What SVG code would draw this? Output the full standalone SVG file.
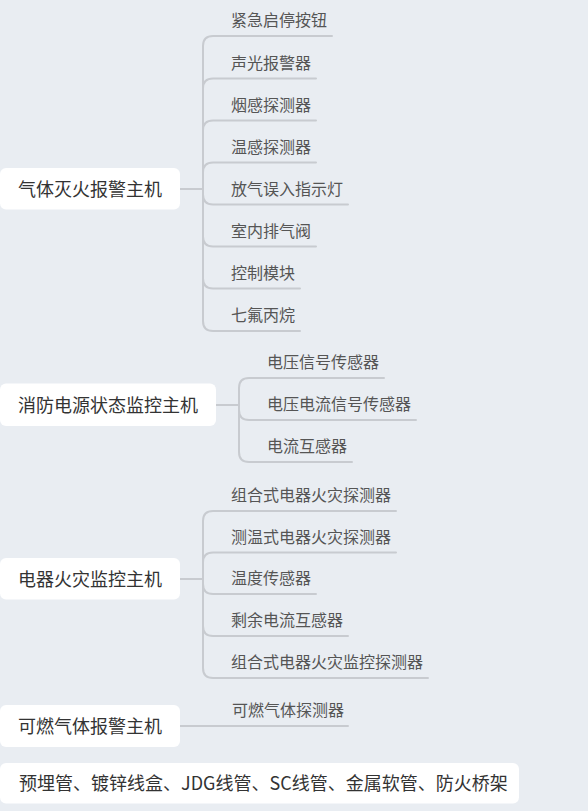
<svg xmlns="http://www.w3.org/2000/svg" width="588" height="811" viewBox="0 0 588 811">
<style>
.bg{fill:#e9edf2}
.box{fill:#ffffff}
.main{font-family:"Noto Sans CJK SC","Noto Sans",sans-serif;font-size:18px;fill:#333333}
.sub{font-family:"Noto Sans CJK SC","Noto Sans",sans-serif;font-size:16px;fill:#555555}
.ln{fill:none;stroke:#c8cbd0;stroke-width:2;stroke-linecap:round}
</style>
<rect class="bg" x="0" y="0" width="588" height="811"/>
<g id="connectors">
<!-- group 1 -->
<path class="ln" d="M180 189 H203"/>
<path class="ln" d="M203 189 V46 Q203 36 213 36 H332"/>
<path class="ln" d="M203 189 V88.5 Q203 78.5 213 78.5 H316"/>
<path class="ln" d="M203 189 V130.5 Q203 120.5 213 120.5 H316"/>
<path class="ln" d="M203 189 V172.5 Q203 162.5 213 162.5 H316"/>
<path class="ln" d="M203 189 V194.5 Q203 204.5 213 204.5 H348"/>
<path class="ln" d="M203 189 V236.5 Q203 246.5 213 246.5 H316"/>
<path class="ln" d="M203 189 V278.5 Q203 288.5 213 288.5 H300"/>
<path class="ln" d="M203 189 V321 Q203 331 213 331 H300"/>
<!-- group 2 -->
<path class="ln" d="M216 405 H239"/>
<path class="ln" d="M239 405 V388 Q239 378 249 378 H384"/>
<path class="ln" d="M239 405 V410 Q239 420 249 420 H416"/>
<path class="ln" d="M239 405 V452 Q239 462 249 462 H352"/>
<!-- group 3 -->
<path class="ln" d="M180 579 H203"/>
<path class="ln" d="M203 579 V521 Q203 511 213 511 H396"/>
<path class="ln" d="M203 579 V562.5 Q203 552.5 213 552.5 H396"/>
<path class="ln" d="M203 579 V584 Q203 594 213 594 H316"/>
<path class="ln" d="M203 579 V626 Q203 636 213 636 H348"/>
<path class="ln" d="M203 579 V668 Q203 678 213 678 H428"/>
<!-- group 4 -->
<path class="ln" d="M180 726 H348"/>
</g>
<g id="node-gas">
<rect class="box" x="0" y="168" width="180" height="41.5" rx="6"/>
<text class="main" x="18" y="195.5">气体灭火报警主机</text>
</g>
<g id="g1-c1"><text class="sub" x="231" y="26">紧急启停按钮</text></g>
<g id="g1-c2"><text class="sub" x="231" y="68.5">声光报警器</text></g>
<g id="g1-c3"><text class="sub" x="231" y="110.5">烟感探测器</text></g>
<g id="g1-c4"><text class="sub" x="231" y="152.5">温感探测器</text></g>
<g id="g1-c5"><text class="sub" x="231" y="194.5">放气误入指示灯</text></g>
<g id="g1-c6"><text class="sub" x="231" y="236.5">室内排气阀</text></g>
<g id="g1-c7"><text class="sub" x="231" y="278.5">控制模块</text></g>
<g id="g1-c8"><text class="sub" x="231" y="321">七氟丙烷</text></g>
<g id="node-power">
<rect class="box" x="0" y="383.5" width="216" height="42.5" rx="6"/>
<text class="main" x="18" y="411.5">消防电源状态监控主机</text>
</g>
<g id="g2-c1"><text class="sub" x="267" y="368">电压信号传感器</text></g>
<g id="g2-c2"><text class="sub" x="267" y="410">电压电流信号传感器</text></g>
<g id="g2-c3"><text class="sub" x="267" y="452">电流互感器</text></g>
<g id="node-elec">
<rect class="box" x="0" y="558" width="180" height="41.5" rx="6"/>
<text class="main" x="18" y="585.5">电器火灾监控主机</text>
</g>
<g id="g3-c1"><text class="sub" x="231" y="501">组合式电器火灾探测器</text></g>
<g id="g3-c2"><text class="sub" x="231" y="542.5">测温式电器火灾探测器</text></g>
<g id="g3-c3"><text class="sub" x="231" y="584">温度传感器</text></g>
<g id="g3-c4"><text class="sub" x="231" y="626">剩余电流互感器</text></g>
<g id="g3-c5"><text class="sub" x="231" y="668">组合式电器火灾监控探测器</text></g>
<g id="node-combustible">
<rect class="box" x="0" y="705" width="180" height="42" rx="6"/>
<text class="main" x="18" y="732.5">可燃气体报警主机</text>
</g>
<g id="g4-c1"><text class="sub" x="232" y="716">可燃气体探测器</text></g>
<g id="node-pipes">
<rect class="box" x="0" y="763" width="519" height="40.5" rx="6"/>
<text class="main" x="19" y="790">预埋管、镀锌线盒、JDG线管、SC线管、金属软管、防火桥架</text>
</g>
</svg>
